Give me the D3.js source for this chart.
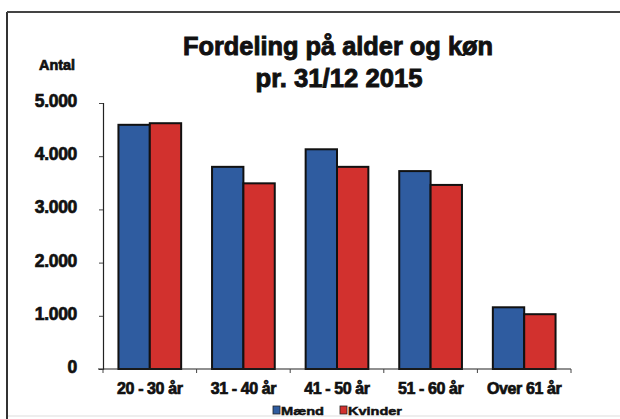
<!DOCTYPE html>
<html>
<head>
<meta charset="utf-8">
<script src="https://cdn.jsdelivr.net/npm/d3@7"></script>
<style>
  body { margin: 0; background: #fff; }
  svg text { font-family: "Liberation Sans", Arial, sans-serif; font-weight: bold; fill: #111; stroke: #111; stroke-width: 0.7px; }
</style>
</head>
<body>
<div id="chart"></div>
<script>
// data
const categories = ["20 - 30 år", "31 - 40 år", "41 - 50 år", "51 - 60 år", "Over 61 år"];
const seriesNames = ["Mænd", "Kvinder"];
const maend = [4590, 3800, 4130, 3720, 1160];
const kvinder = [4620, 3490, 3800, 3460, 1030];
const yTicks = [0, 1000, 2000, 3000, 4000, 5000];

const width = 620, height = 419;
const colors = ["#2f5ca0", "#d2312e"];

const rows = categories.map((c, i) => ({ cat: c, values: [maend[i], kvinder[i]] }));

const svg = d3.select("#chart").append("svg")
    .attr("width", width).attr("height", height);

// scanned frame
svg.append("line").attr("x1", 7).attr("y1", 12).attr("x2", 7).attr("y2", height)
    .attr("stroke", "#333").attr("stroke-width", 2);
svg.append("line").attr("x1", 7).attr("y1", 12).attr("x2", width).attr("y2", 12)
    .attr("stroke", "#444").attr("stroke-width", 2);
svg.append("line").attr("x1", 8).attr("y1", 416).attr("x2", width).attr("y2", 416)
    .attr("stroke", "#ddd").attr("stroke-width", 1);

const x0 = d3.scaleBand().domain(categories).range([103, 571])
    .paddingInner(0.33).paddingOuter(0.165);
const x1 = d3.scaleBand().domain([0, 1]).range([0, x0.bandwidth()]);
const y = d3.scaleLinear().domain([0, 5000]).range([369, 103]);

const locale = d3.formatLocale({ decimal: ",", thousands: ".", grouping: [3], currency: ["", " kr."] });
const fmt = locale.format(",d");

// y axis
const yAxis = svg.append("g").attr("transform", "translate(103,0)")
    .call(d3.axisLeft(y).tickValues(yTicks).tickFormat(fmt).tickSize(4).tickPadding(22));
yAxis.select(".domain").attr("stroke", "#222").attr("stroke-width", 1.2);
yAxis.selectAll(".tick line").attr("stroke", "#444");
yAxis.selectAll(".tick text").attr("font-size", 17.5).attr("dy", "0.2em")
    .style("letter-spacing", "-0.3px").attr("fill", "#111");

// bars
const groups = svg.append("g").selectAll("g").data(rows).join("g")
    .attr("transform", d => `translate(${x0(d.cat)},0)`);
groups.selectAll("rect").data(d => d.values).join("rect")
    .attr("x", (d, i) => x1(i))
    .attr("y", d => y(d))
    .attr("width", x1.bandwidth())
    .attr("height", d => y(0) - y(d))
    .attr("fill", (d, i) => colors[i])
    .attr("stroke", "#111").attr("stroke-width", 2);

// x axis: ticks at category boundaries
const xAxisG = svg.append("g").attr("transform", `translate(0,${y(0)})`);
xAxisG.append("line").attr("x1", 98).attr("x2", 571).attr("stroke", "#222").attr("stroke-width", 1.2);
const bounds = categories.map(c => x0(c) - x0.step() * x0.paddingInner() / 2)
    .concat([x0(categories[categories.length - 1]) + x0.bandwidth() + x0.step() * x0.paddingInner() / 2]);
xAxisG.selectAll("line.tk").data(bounds).join("line").attr("class", "tk")
    .attr("x1", d => d).attr("x2", d => d).attr("y1", 0).attr("y2", 4)
    .attr("stroke", "#444");
xAxisG.selectAll("text").data(categories).join("text")
    .attr("x", d => x0(d) + x0.bandwidth() / 2)
    .attr("y", 25)
    .attr("text-anchor", "middle")
    .attr("font-size", 16)
    .style("letter-spacing", "-0.4px")
    .text(d => d);

// title
svg.append("text").attr("x", 338).attr("y", 55).attr("text-anchor", "middle")
    .attr("font-size", 25).attr("textLength", 310).attr("lengthAdjust", "spacingAndGlyphs")
    .style("stroke-width", "0.9px")
    .text("Fordeling på alder og køn");
svg.append("text").attr("x", 339).attr("y", 87).attr("text-anchor", "middle")
    .attr("font-size", 25).attr("textLength", 167).attr("lengthAdjust", "spacingAndGlyphs")
    .style("stroke-width", "0.9px")
    .text("pr. 31/12 2015");

// y label
svg.append("text").attr("x", 57).attr("y", 70).attr("text-anchor", "middle")
    .attr("font-size", 14.5).attr("textLength", 36).attr("lengthAdjust", "spacingAndGlyphs")
    .text("Antal");

// legend
const legendX = [273, 340];
const legendW = [43, 54];
const legend = svg.append("g").selectAll("g").data(seriesNames).join("g")
    .attr("transform", (d, i) => `translate(${legendX[i]},406)`);
legend.append("rect").attr("width", 7).attr("height", 8)
    .attr("fill", (d, i) => colors[i]).attr("stroke", "#222").attr("stroke-width", 0.8);
legend.append("text").attr("x", 8).attr("y", 8.5).attr("font-size", 11.5)
    .attr("textLength", (d, i) => legendW[i]).attr("lengthAdjust", "spacingAndGlyphs")
    .style("stroke-width", "0.5px")
    .text(d => d);
</script>
</body>
</html>
